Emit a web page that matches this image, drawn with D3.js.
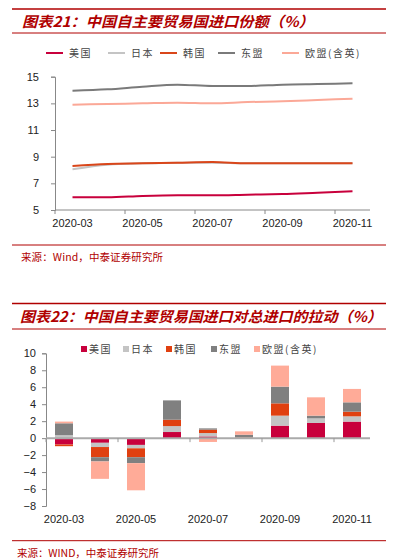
<!DOCTYPE html>
<html>
<head>
<meta charset="utf-8">
<script src="https://cdn.jsdelivr.net/npm/d3@7"></script>
<style>
  html, body { margin: 0; padding: 0; background: #fff; }
  svg { display: block; }
  .num { font-family: "Liberation Sans", Arial, sans-serif; font-size: 11px; fill: #222; }
  .cjk { font-family: "Noto Sans CJK SC", sans-serif; }
</style>
</head>
<body>
<svg id="chart" width="394" height="560"></svg>
<script>
// months on the category axis
const months = ['2020-03', '2020-04', '2020-05', '2020-06', '2020-07', '2020-08', '2020-09', '2020-10', '2020-11'];
const monthLabels = ['2020-03', '2020-05', '2020-07', '2020-09', '2020-11'];
const countries = ['美国', '日本', '韩国', '东盟', '欧盟(含英)'];

// chart 21: import share (%)
const shareUS = [5.95, 5.95, 6.05, 6.1, 6.1, 6.15, 6.2, 6.3, 6.4];
const shareJP = [8.05, 8.4, 8.5, 8.55, 8.55, 8.5, 8.5, 8.5, 8.5];
const shareKR = [8.3, 8.45, 8.5, 8.55, 8.6, 8.5, 8.5, 8.5, 8.5];
const shareASEAN = [13.95, 14.05, 14.25, 14.4, 14.3, 14.3, 14.4, 14.45, 14.5];
const shareEU = [12.9, 12.95, 13.0, 13.05, 13.0, 13.1, 13.15, 13.25, 13.35];
const shareTicks = [5, 7, 9, 11, 13, 15];

// chart 22: contribution to total import growth (%)
const pullUS = [-0.75, -0.55, -0.8, 0.72, 0.2, -0.05, 1.47, 1.79, 1.95];
const pullJP = [0.35, -0.5, -0.4, 0.7, 0.4, 0.05, 1.18, 0.54, 0.62];
const pullKR = [-0.2, -1.2, -1.05, 0.75, 0.4, 0.05, 1.45, 0.0, 0.55];
const pullASEAN = [1.4, -0.5, -0.7, 2.28, 0.15, 0.3, 1.97, 0.32, 1.1];
const pullEU = [0.2, -2.05, -3.2, 0.0, -0.45, 0.4, 2.48, 2.16, 1.58];
const pullTicks = [-8, -6, -4, -2, 0, 2, 4, 6, 8, 10];

const colors = ['#c8003c', '#c4c4c4', '#e04010', '#808080', '#ffab98'];
const lineColors = ['#c8003c', '#c4c4c4', '#d9461a', '#7a7a7a', '#fba897'];
const red = '#b00000';

const svg = d3.select('#chart');

const header = (y0, y1, title, x0, len) => {
  svg.append('line').attr('x1', 12).attr('x2', 386).attr('y1', y0).attr('y2', y0)
    .attr('stroke', red).attr('stroke-width', 1.5);
  svg.append('text').attr('class', 'cjk')
    .attr('x', x0).attr('y', y0 + 18)
    .attr('font-size', 14.5).attr('font-weight', 'bold').attr('font-style', 'italic')
    .attr('textLength', len).attr('lengthAdjust', 'spacingAndGlyphs')
    .attr('fill', red).text(title);
  svg.append('line').attr('x1', 12).attr('x2', 386).attr('y1', y1).attr('y2', y1)
    .attr('stroke', red).attr('stroke-width', 1);
};

const footer = (y, text, x0, len) => {
  svg.append('line').attr('x1', 12).attr('x2', 386).attr('y1', y).attr('y2', y)
    .attr('stroke', red).attr('stroke-width', 1);
  svg.append('text').attr('class', 'cjk')
    .attr('x', x0).attr('y', y + 16)
    .attr('font-size', 10.5)
    .attr('textLength', len).attr('lengthAdjust', 'spacing')
    .attr('fill', red).text(text);
};

// ---------- chart 21 ----------
header(9, 33, '图表21：中国自主要贸易国进口份额（%）', 22, 292);

const x1 = d3.scaleBand().domain(months).range([55, 370]);
const y1 = d3.scaleLinear().domain([5, 15]).range([210, 76.7]);

const g1 = svg.append('g');
g1.append('g')
  .attr('transform', 'translate(55,0)')
  .call(d3.axisLeft(y1).tickValues(shareTicks).tickSize(4).tickPadding(12))
  .call(g => g.select('.domain').attr('stroke', '#888'))
  .call(g => g.selectAll('.tick line').attr('stroke', '#888'))
  .call(g => g.selectAll('text').attr('class', 'num').attr('font-size', null).attr('font-family', null));

const xAxis1 = g1.append('g').attr('transform', 'translate(0,210)');
xAxis1.append('line').attr('x1', 55).attr('x2', 370).attr('y1', 0).attr('y2', 0).attr('stroke', '#888');
xAxis1.selectAll('line.tk')
  .data(months.filter((d, i) => i % 2 === 0))
  .join('line').attr('class', 'tk')
  .attr('x1', d => x1(d)).attr('x2', d => x1(d))
  .attr('y1', 0).attr('y2', 4).attr('stroke', '#888');
xAxis1.selectAll('text')
  .data(monthLabels)
  .join('text').attr('class', 'num')
  .attr('x', d => x1(d) + x1.bandwidth() / 2).attr('y', 17)
  .attr('text-anchor', 'middle').text(d => d);

const shareSeries = [shareUS, shareJP, shareKR, shareASEAN, shareEU];
const line = d3.line()
  .x((d, i) => x1(months[i]) + x1.bandwidth() / 2)
  .y(d => y1(d))
  .curve(d3.curveMonotoneX);
g1.selectAll('path.series')
  .data(shareSeries)
  .join('path').attr('class', 'series')
  .attr('d', line)
  .attr('fill', 'none')
  .attr('stroke', (d, i) => lineColors[i])
  .attr('stroke-width', 2);

// legend with line keys
const legend1X = [46, 108, 160, 218, 282];
const lg1 = svg.append('g').selectAll('g')
  .data(countries)
  .join('g')
  .attr('transform', (d, i) => `translate(${legend1X[i]},53)`);
lg1.append('line').attr('x1', 0).attr('x2', 17).attr('y1', 0).attr('y2', 0)
  .attr('stroke', (d, i) => lineColors[i]).attr('stroke-width', 2);
lg1.append('text').attr('class', 'cjk')
  .attr('x', 23).attr('y', 3.5)
  .attr('font-size', 10).attr('letter-spacing', 1.5).attr('fill', '#444')
  .text(d => d);

footer(245, '来源：Wind，中泰证券研究所', 21, 142);

// ---------- chart 22 ----------
header(303.5, 329, '图表22：中国自主要贸易国进口对总进口的拉动（%）', 20, 362);

const x2 = d3.scaleBand().domain(months).range([46, 370]).paddingInner(0.5).paddingOuter(0.25);
const xb = d3.scaleBand().domain(months).range([46, 370]);
const y2 = d3.scaleLinear().domain([-8, 10]).range([506, 353.3]);

const g2 = svg.append('g');
g2.append('g')
  .attr('transform', 'translate(46,0)')
  .call(d3.axisLeft(y2).tickValues(pullTicks).tickSize(4).tickPadding(6))
  .call(g => g.select('.domain').attr('stroke', '#888'))
  .call(g => g.selectAll('.tick line').attr('stroke', '#888'))
  .call(g => g.selectAll('text').attr('class', 'num').attr('font-size', null).attr('font-family', null));

const pullSeries = [pullUS, pullJP, pullKR, pullASEAN, pullEU];
const rows = months.map((m, i) => {
  const row = { month: m };
  countries.forEach((c, k) => { row[c] = pullSeries[k][i]; });
  return row;
});
const stacked = d3.stack().keys(countries).offset(d3.stackOffsetDiverging)(rows);

g2.selectAll('g.layer')
  .data(stacked)
  .join('g').attr('class', 'layer')
  .attr('fill', (d, i) => colors[i])
  .selectAll('rect')
  .data(d => d)
  .join('rect')
  .attr('x', d => x2(d.data.month))
  .attr('width', x2.bandwidth())
  .attr('y', d => y2(Math.max(d[0], d[1])))
  .attr('height', d => Math.abs(y2(d[0]) - y2(d[1])));

const xAxis2 = g2.append('g').attr('transform', `translate(0,${y2(0)})`);
xAxis2.append('line').attr('x1', 46).attr('x2', 370).attr('y1', 0).attr('y2', 0)
  .attr('stroke', '#aaa').attr('stroke-width', 2);
xAxis2.selectAll('line.tk')
  .data(months.filter((d, i) => i % 2 === 0))
  .join('line').attr('class', 'tk')
  .attr('x1', d => xb(d)).attr('x2', d => xb(d))
  .attr('y1', 0).attr('y2', 4).attr('stroke', '#999');
g2.selectAll('text.xl')
  .data(monthLabels)
  .join('text').attr('class', 'num xl')
  .attr('x', d => xb(d) + xb.bandwidth() / 2).attr('y', 523)
  .attr('text-anchor', 'middle').text(d => d);

// legend with square keys
const legend2X = [81, 123, 166, 211, 254];
const lg2 = svg.append('g').selectAll('g')
  .data(countries)
  .join('g')
  .attr('transform', (d, i) => `translate(${legend2X[i]},349)`);
lg2.append('rect').attr('x', 0).attr('y', -3).attr('width', 6).attr('height', 6)
  .attr('fill', (d, i) => colors[i]);
lg2.append('text').attr('class', 'cjk')
  .attr('x', 8).attr('y', 4)
  .attr('font-size', 10).attr('letter-spacing', 1.5).attr('fill', '#444')
  .text(d => d);

footer(540.7, '来源：WIND，中泰证券研究所', 17, 142);
</script>
</body>
</html>
